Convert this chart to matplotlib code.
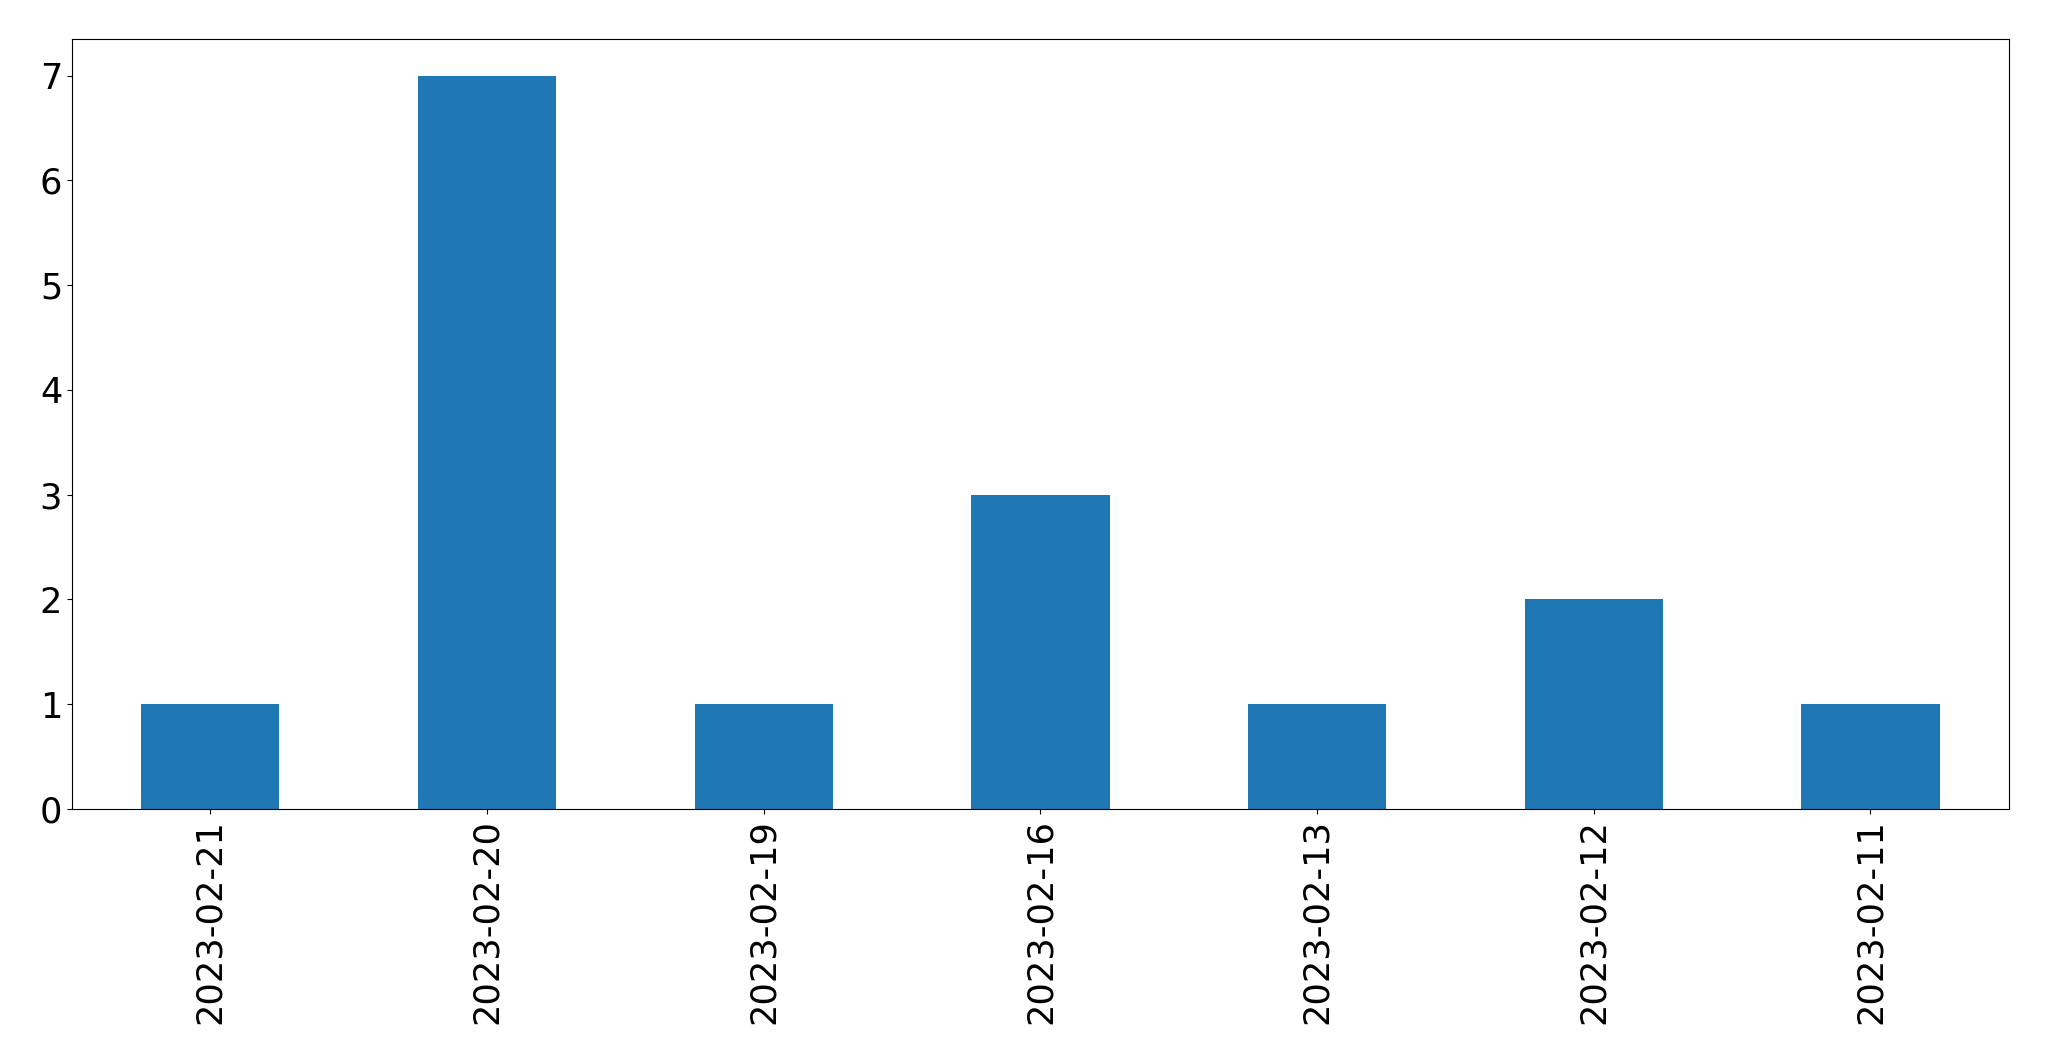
import pandas as pd
import matplotlib
matplotlib.use("Agg")
import matplotlib.pyplot as plt

dates = ["2023-02-21", "2023-02-20", "2023-02-19", "2023-02-16",
         "2023-02-13", "2023-02-12", "2023-02-11"]
counts = [1, 7, 1, 3, 1, 2, 1]

s = pd.Series(counts, index=dates)

fig = plt.figure(figsize=(20.49, 10.61), dpi=100)
ax = fig.add_axes([0.0351, 0.2375, 0.9453, 0.7257])
s.plot(kind="bar", ax=ax, color="#1f77b4")
ax.tick_params(axis="both", labelsize=25.3)
fig.savefig("out.png", dpi=100)
